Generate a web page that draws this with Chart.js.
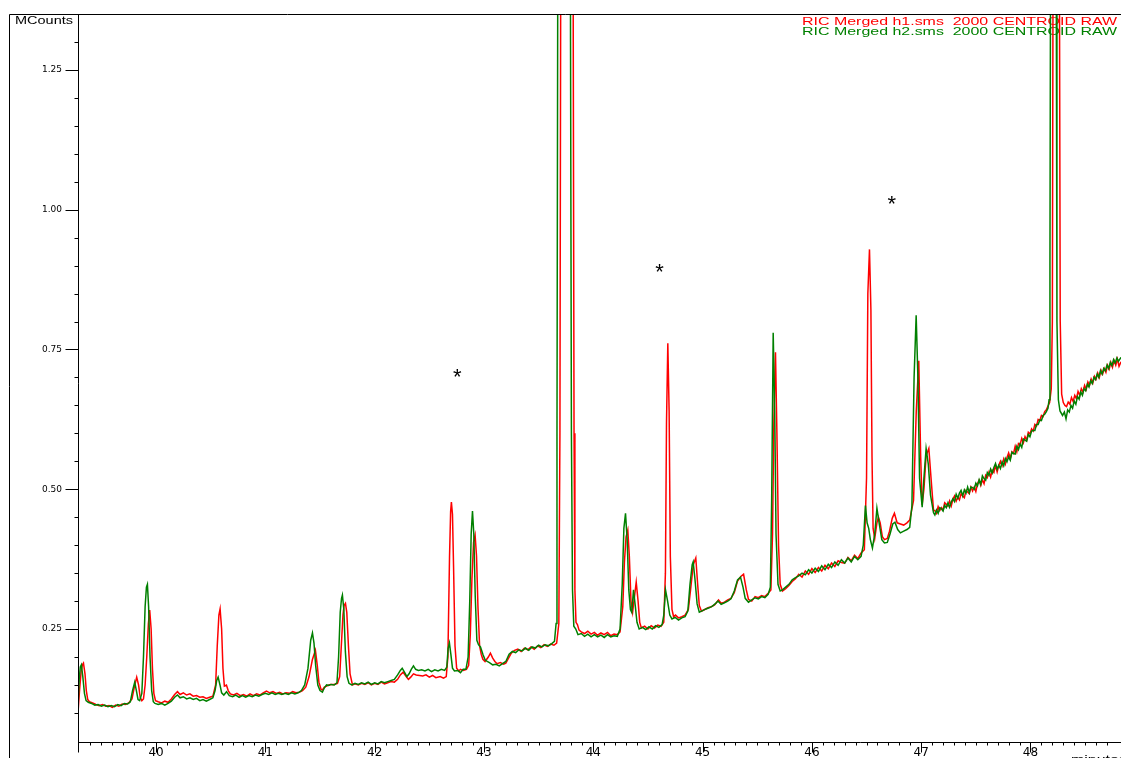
<!DOCTYPE html>
<html>
<head>
<meta charset="UTF-8">
<title>RIC Merged h1 / h2</title>
<script src="https://cdn.jsdelivr.net/npm/chart.js"></script>
<style>
  html, body { margin: 0; padding: 0; background: #fff; overflow: hidden; }
  canvas { display: block; }
</style>
</head>
<body>
<canvas id="ric" width="1121" height="758"></canvas>
<script>
// legend text of the two traces
const traceNames = ['RIC Merged h1.sms  2000 CENTROID RAW', 'RIC Merged h2.sms  2000 CENTROID RAW'];

// [minutes, MCounts]
const redTrace = [
  [39.286,0.100],[39.30,0.140],[39.315,0.175],[39.326,0.186],[39.336,0.189],[39.35,0.170],[39.362,0.140],[39.375,0.124],
  [39.39,0.120],[39.42,0.118],[39.45,0.115],[39.48,0.113],[39.51,0.115],[39.54,0.112],[39.57,0.113],[39.60,0.110],
  [39.63,0.114],[39.66,0.112],[39.69,0.116],[39.72,0.115],[39.75,0.118],[39.78,0.125],[39.80,0.145],[39.823,0.164],
  [39.84,0.150],[39.855,0.128],[39.87,0.122],[39.885,0.125],[39.90,0.150],[39.915,0.200],[39.93,0.260],[39.942,0.284],
  [39.955,0.250],[39.967,0.180],[39.98,0.135],[39.995,0.122],[40.02,0.120],[40.05,0.118],[40.08,0.121],[40.11,0.119],
  [40.14,0.125],[40.17,0.133],[40.196,0.138],[40.22,0.133],[40.25,0.136],[40.28,0.132],[40.31,0.134],[40.34,0.130],
  [40.37,0.131],[40.40,0.128],[40.43,0.129],[40.46,0.126],[40.49,0.128],[40.52,0.130],[40.545,0.150],[40.56,0.220],
  [40.575,0.275],[40.586,0.286],[40.60,0.250],[40.612,0.180],[40.625,0.148],[40.644,0.150],[40.66,0.140],[40.68,0.134],
  [40.71,0.132],[40.74,0.135],[40.77,0.131],[40.80,0.133],[40.83,0.130],[40.86,0.134],[40.89,0.131],[40.92,0.134],
  [40.95,0.132],[40.98,0.136],[41.01,0.139],[41.04,0.136],[41.07,0.138],[41.10,0.135],[41.13,0.137],[41.16,0.134],
  [41.19,0.136],[41.22,0.135],[41.25,0.138],[41.28,0.136],[41.31,0.137],[41.34,0.140],[41.37,0.146],[41.40,0.165],
  [41.43,0.195],[41.458,0.212],[41.475,0.185],[41.49,0.155],[41.51,0.142],[41.522,0.141],[41.54,0.146],[41.56,0.148],
  [41.58,0.150],[41.60,0.151],[41.63,0.151],[41.66,0.153],[41.68,0.165],[41.695,0.220],[41.71,0.275],[41.72,0.292],
  [41.733,0.296],[41.745,0.280],[41.76,0.220],[41.775,0.170],[41.797,0.150],[41.82,0.152],[41.85,0.150],[41.88,0.153],
  [41.91,0.151],[41.94,0.154],[41.97,0.150],[42.00,0.153],[42.03,0.151],[42.06,0.155],[42.09,0.152],[42.12,0.154],
  [42.15,0.156],[42.18,0.155],[42.21,0.160],[42.235,0.168],[42.26,0.173],[42.285,0.166],[42.309,0.160],[42.33,0.164],
  [42.355,0.170],[42.38,0.168],[42.41,0.167],[42.44,0.166],[42.47,0.168],[42.50,0.164],[42.53,0.167],[42.56,0.163],
  [42.60,0.165],[42.63,0.162],[42.655,0.165],[42.67,0.200],[42.685,0.380],[42.695,0.460],[42.702,0.477],[42.712,0.455],
  [42.722,0.360],[42.735,0.220],[42.75,0.180],[42.77,0.175],[42.785,0.178],[42.81,0.176],[42.84,0.178],[42.86,0.185],
  [42.875,0.240],[42.89,0.340],[42.905,0.405],[42.919,0.418],[42.932,0.380],[42.945,0.290],[42.96,0.220],[42.975,0.205],
  [42.99,0.196],[43.01,0.192],[43.04,0.200],[43.059,0.207],[43.08,0.198],[43.10,0.192],[43.12,0.188],[43.15,0.190],
  [43.18,0.187],[43.20,0.189],[43.22,0.196],[43.25,0.207],[43.28,0.212],[43.31,0.214],[43.34,0.210],[43.37,0.216],
  [43.40,0.213],[43.43,0.218],[43.46,0.214],[43.49,0.220],[43.52,0.217],[43.55,0.222],[43.58,0.219],[43.61,0.223],
  [43.64,0.221],[43.665,0.225],[43.685,0.260],[43.695,0.600],[43.702,1.400],[43.71,2.600],[43.77,3.000],[43.81,2.200],
  [43.817,1.300],[43.824,0.600],[43.832,0.320],[43.842,0.262],[43.855,0.258],[43.87,0.248],[43.89,0.245],[43.92,0.242],
  [43.95,0.246],[43.98,0.241],[44.01,0.244],[44.04,0.239],[44.07,0.243],[44.10,0.240],[44.13,0.244],[44.16,0.238],
  [44.19,0.241],[44.22,0.240],[44.245,0.245],[44.27,0.290],[44.285,0.370],[44.30,0.415],[44.316,0.427],[44.33,0.380],
  [44.345,0.300],[44.36,0.280],[44.375,0.305],[44.393,0.334],[44.41,0.300],[44.425,0.262],[44.44,0.252],[44.47,0.255],
  [44.50,0.250],[44.53,0.256],[44.56,0.252],[44.59,0.257],[44.62,0.255],[44.645,0.262],[44.66,0.350],[44.67,0.620],
  [44.682,0.761],[44.694,0.640],[44.705,0.380],[44.72,0.285],[44.735,0.272],[44.752,0.275],[44.78,0.270],[44.81,0.272],
  [44.84,0.275],[44.87,0.285],[44.89,0.320],[44.915,0.365],[44.938,0.377],[44.955,0.330],[44.97,0.292],[44.99,0.282],
  [45.02,0.285],[45.05,0.288],[45.08,0.290],[45.11,0.293],[45.146,0.302],[45.17,0.296],[45.20,0.298],[45.23,0.302],
  [45.26,0.305],[45.29,0.315],[45.32,0.336],[45.35,0.344],[45.375,0.348],[45.40,0.320],[45.42,0.303],[45.45,0.300],
  [45.48,0.308],[45.51,0.306],[45.54,0.310],[45.57,0.308],[45.60,0.314],[45.625,0.320],[45.64,0.420],[45.652,0.620],
  [45.667,0.745],[45.68,0.600],[45.695,0.400],[45.71,0.330],[45.731,0.318],[45.76,0.322],[45.79,0.328],[45.82,0.335],
  [45.85,0.340],[45.88,0.348],[45.91,0.343],[45.94,0.354],[45.97,0.348],[46.00,0.358],[46.03,0.351],[46.06,0.360],
  [46.09,0.354],[46.12,0.364],[46.15,0.358],[46.18,0.368],[46.21,0.362],[46.24,0.372],[46.27,0.369],[46.30,0.368],
  [46.33,0.378],[46.36,0.372],[46.39,0.382],[46.42,0.376],[46.45,0.386],[46.48,0.392],[46.50,0.520],[46.512,0.850],
  [46.527,0.929],[46.54,0.820],[46.55,0.560],[46.56,0.430],[46.575,0.412],[46.595,0.440],[46.609,0.450],[46.625,0.440],
  [46.645,0.415],[46.664,0.410],[46.69,0.412],[46.71,0.425],[46.735,0.448],[46.755,0.457],[46.78,0.440],[46.81,0.438],
  [46.84,0.436],[46.87,0.440],[46.895,0.445],[46.93,0.480],[46.955,0.640],[46.978,0.730],[46.995,0.560],[47.009,0.472],
  [47.025,0.500],[47.045,0.560],[47.07,0.573],[47.09,0.520],[47.113,0.462],[47.125,0.462],[47.14,0.457],[47.155,0.469],
  [47.17,0.462],[47.185,0.467],[47.20,0.463],[47.215,0.476],[47.23,0.473],[47.245,0.470],[47.26,0.479],[47.275,0.470],
  [47.29,0.482],[47.305,0.488],[47.32,0.479],[47.335,0.486],[47.35,0.481],[47.365,0.492],[47.38,0.488],[47.395,0.485],
  [47.41,0.498],[47.425,0.495],[47.44,0.492],[47.455,0.504],[47.47,0.497],[47.485,0.504],[47.50,0.496],[47.515,0.510],
  [47.53,0.516],[47.545,0.507],[47.56,0.517],[47.575,0.510],[47.59,0.525],[47.605,0.521],[47.62,0.531],[47.635,0.522],
  [47.65,0.534],[47.665,0.530],[47.68,0.543],[47.695,0.531],[47.71,0.543],[47.725,0.550],[47.74,0.542],[47.755,0.554],
  [47.77,0.545],[47.785,0.557],[47.80,0.565],[47.815,0.555],[47.83,0.567],[47.845,0.564],[47.86,0.577],[47.875,0.567],
  [47.89,0.582],[47.905,0.580],[47.92,0.591],[47.935,0.583],[47.95,0.594],[47.965,0.588],[47.98,0.602],[47.995,0.599],
  [48.01,0.608],[48.025,0.604],[48.04,0.616],[48.055,0.613],[48.07,0.625],[48.085,0.623],[48.10,0.632],[48.115,0.630],
  [48.13,0.639],[48.145,0.642],[48.16,0.649],[48.175,0.655],[48.19,0.680],[48.20,0.800],[48.207,1.500],[48.215,2.600],
  [48.255,2.600],[48.265,1.400],[48.272,0.800],[48.285,0.670],[48.30,0.655],[48.315,0.650],[48.33,0.648],[48.345,0.656],
  [48.36,0.652],[48.375,0.664],[48.39,0.657],[48.405,0.668],[48.42,0.662],[48.435,0.675],[48.45,0.668],[48.465,0.680],
  [48.48,0.674],[48.495,0.686],[48.51,0.679],[48.525,0.692],[48.54,0.686],[48.555,0.697],[48.57,0.690],[48.585,0.702],
  [48.60,0.697],[48.615,0.708],[48.63,0.700],[48.645,0.713],[48.66,0.706],[48.675,0.716],[48.69,0.709],[48.705,0.722],
  [48.72,0.715],[48.735,0.727],[48.75,0.718],[48.765,0.730],[48.78,0.722],[48.795,0.733],[48.81,0.720],[48.828,0.728]
];

const greenTrace = [
  [39.286,0.110],[39.297,0.160],[39.307,0.182],[39.317,0.186],[39.33,0.165],[39.345,0.135],[39.36,0.122],[39.38,0.119],
  [39.41,0.117],[39.44,0.114],[39.47,0.115],[39.50,0.112],[39.53,0.114],[39.56,0.111],[39.59,0.113],[39.62,0.111],
  [39.65,0.115],[39.68,0.113],[39.71,0.117],[39.74,0.116],[39.765,0.120],[39.785,0.140],[39.805,0.155],[39.82,0.140],
  [39.835,0.124],[39.85,0.122],[39.87,0.135],[39.885,0.200],[39.90,0.290],[39.912,0.325],[39.921,0.330],[39.932,0.290],
  [39.945,0.200],[39.96,0.140],[39.975,0.120],[39.99,0.117],[40.02,0.115],[40.05,0.117],[40.08,0.114],[40.11,0.117],
  [40.14,0.121],[40.17,0.128],[40.196,0.132],[40.22,0.127],[40.25,0.129],[40.28,0.125],[40.31,0.127],[40.34,0.124],
  [40.37,0.126],[40.40,0.122],[40.43,0.124],[40.46,0.121],[40.49,0.124],[40.52,0.127],[40.54,0.140],[40.555,0.158],
  [40.568,0.164],[40.585,0.150],[40.60,0.136],[40.62,0.132],[40.645,0.138],[40.67,0.131],[40.70,0.129],[40.73,0.132],
  [40.76,0.128],[40.79,0.131],[40.82,0.128],[40.85,0.131],[40.88,0.129],[40.91,0.132],[40.94,0.130],[40.97,0.133],
  [41.00,0.135],[41.03,0.133],[41.06,0.136],[41.09,0.133],[41.12,0.135],[41.15,0.133],[41.18,0.135],[41.21,0.133],
  [41.24,0.136],[41.27,0.134],[41.30,0.136],[41.33,0.140],[41.36,0.150],[41.39,0.180],[41.415,0.230],[41.431,0.243],
  [41.445,0.225],[41.46,0.185],[41.48,0.150],[41.50,0.140],[41.522,0.137],[41.54,0.145],[41.56,0.150],[41.58,0.149],
  [41.60,0.151],[41.63,0.150],[41.655,0.154],[41.67,0.200],[41.685,0.280],[41.697,0.305],[41.705,0.311],[41.718,0.285],
  [41.732,0.210],[41.748,0.165],[41.765,0.153],[41.79,0.150],[41.82,0.153],[41.85,0.151],[41.88,0.154],[41.91,0.152],
  [41.94,0.155],[41.97,0.151],[42.00,0.154],[42.03,0.152],[42.06,0.156],[42.09,0.154],[42.12,0.156],[42.15,0.158],
  [42.18,0.160],[42.21,0.168],[42.235,0.176],[42.252,0.180],[42.275,0.172],[42.295,0.165],[42.315,0.170],[42.335,0.178],
  [42.355,0.184],[42.375,0.178],[42.40,0.176],[42.43,0.177],[42.46,0.175],[42.49,0.178],[42.52,0.174],[42.55,0.177],
  [42.58,0.175],[42.61,0.178],[42.64,0.176],[42.66,0.182],[42.672,0.215],[42.684,0.225],[42.697,0.205],[42.712,0.180],
  [42.73,0.175],[42.76,0.176],[42.785,0.172],[42.81,0.178],[42.835,0.178],[42.855,0.200],[42.87,0.300],[42.883,0.420],
  [42.895,0.461],[42.907,0.420],[42.92,0.310],[42.935,0.230],[42.95,0.222],[42.968,0.218],[42.99,0.205],[43.01,0.195],
  [43.03,0.192],[43.05,0.190],[43.08,0.186],[43.11,0.187],[43.14,0.184],[43.17,0.188],[43.20,0.192],[43.23,0.205],
  [43.26,0.210],[43.29,0.208],[43.32,0.213],[43.35,0.211],[43.38,0.216],[43.41,0.212],[43.44,0.218],[43.47,0.216],
  [43.50,0.221],[43.53,0.218],[43.56,0.222],[43.59,0.220],[43.62,0.224],[43.645,0.228],[43.66,0.260],[43.668,0.600],
  [43.675,1.400],[43.683,2.600],[43.74,3.000],[43.785,2.200],[43.792,1.300],[43.80,0.600],[43.81,0.320],[43.822,0.255],
  [43.84,0.250],[43.86,0.240],[43.89,0.242],[43.92,0.237],[43.95,0.241],[43.98,0.236],[44.01,0.240],[44.04,0.236],
  [44.07,0.239],[44.10,0.235],[44.13,0.240],[44.16,0.236],[44.19,0.238],[44.22,0.237],[44.245,0.250],[44.265,0.330],
  [44.28,0.430],[44.295,0.457],[44.31,0.410],[44.325,0.320],[44.34,0.285],[44.352,0.280],[44.368,0.320],[44.385,0.290],
  [44.40,0.262],[44.42,0.250],[44.45,0.253],[44.48,0.249],[44.51,0.254],[44.54,0.250],[44.57,0.256],[44.60,0.253],
  [44.63,0.258],[44.645,0.275],[44.661,0.320],[44.68,0.300],[44.70,0.275],[44.72,0.268],[44.75,0.271],[44.78,0.266],
  [44.81,0.270],[44.84,0.272],[44.865,0.282],[44.885,0.330],[44.905,0.365],[44.914,0.370],[44.93,0.340],[44.95,0.295],
  [44.97,0.280],[45.00,0.283],[45.03,0.286],[45.06,0.288],[45.09,0.291],[45.12,0.296],[45.14,0.300],[45.17,0.294],
  [45.20,0.297],[45.23,0.300],[45.26,0.304],[45.29,0.318],[45.32,0.338],[45.347,0.343],[45.37,0.325],[45.39,0.305],
  [45.42,0.298],[45.45,0.302],[45.48,0.306],[45.51,0.304],[45.54,0.308],[45.57,0.306],[45.60,0.312],[45.62,0.325],
  [45.632,0.480],[45.646,0.780],[45.66,0.640],[45.672,0.420],[45.69,0.330],[45.71,0.318],[45.731,0.320],[45.76,0.325],
  [45.79,0.330],[45.82,0.338],[45.85,0.342],[45.88,0.345],[45.91,0.350],[45.94,0.347],[45.97,0.356],[46.00,0.350],
  [46.03,0.359],[46.06,0.353],[46.09,0.363],[46.12,0.356],[46.15,0.366],[46.18,0.360],[46.21,0.370],[46.24,0.364],
  [46.27,0.374],[46.30,0.368],[46.33,0.377],[46.36,0.370],[46.39,0.380],[46.42,0.374],[46.45,0.380],[46.47,0.400],
  [46.49,0.471],[46.505,0.440],[46.52,0.430],[46.535,0.410],[46.554,0.395],[46.575,0.420],[46.595,0.466],[46.615,0.440],
  [46.64,0.410],[46.664,0.404],[46.69,0.405],[46.715,0.420],[46.74,0.438],[46.76,0.441],[46.785,0.428],[46.81,0.422],
  [46.84,0.425],[46.87,0.428],[46.895,0.432],[46.915,0.470],[46.935,0.700],[46.954,0.811],[46.97,0.700],[46.985,0.520],
  [47.009,0.468],[47.025,0.520],[47.045,0.573],[47.065,0.545],[47.085,0.490],[47.113,0.458],[47.125,0.454],[47.14,0.463],
  [47.155,0.457],[47.17,0.467],[47.185,0.465],[47.20,0.461],[47.215,0.471],[47.23,0.467],[47.245,0.476],[47.26,0.468],
  [47.275,0.477],[47.29,0.483],[47.305,0.478],[47.32,0.491],[47.335,0.484],[47.35,0.493],[47.365,0.498],[47.38,0.488],
  [47.395,0.499],[47.41,0.493],[47.425,0.504],[47.44,0.494],[47.455,0.504],[47.47,0.503],[47.485,0.500],[47.50,0.511],
  [47.515,0.506],[47.53,0.517],[47.545,0.509],[47.56,0.524],[47.575,0.519],[47.59,0.516],[47.605,0.530],[47.62,0.525],
  [47.635,0.536],[47.65,0.529],[47.665,0.539],[47.68,0.546],[47.695,0.536],[47.71,0.543],[47.725,0.537],[47.74,0.549],
  [47.755,0.542],[47.77,0.555],[47.785,0.549],[47.80,0.558],[47.815,0.552],[47.83,0.566],[47.845,0.564],[47.86,0.563],
  [47.875,0.577],[47.89,0.571],[47.905,0.581],[47.92,0.575],[47.935,0.590],[47.95,0.588],[47.965,0.586],[47.98,0.598],
  [47.995,0.594],[48.01,0.604],[48.025,0.605],[48.04,0.605],[48.055,0.616],[48.07,0.616],[48.085,0.624],[48.10,0.623],
  [48.115,0.632],[48.13,0.634],[48.145,0.639],[48.16,0.645],[48.17,0.660],[48.178,0.900],[48.184,1.500],[48.19,2.600],
  [48.23,2.600],[48.236,1.400],[48.242,0.800],[48.255,0.660],[48.27,0.640],[48.293,0.632],[48.31,0.638],[48.325,0.626],
  [48.34,0.642],[48.355,0.638],[48.37,0.650],[48.385,0.645],[48.40,0.658],[48.415,0.652],[48.43,0.666],[48.445,0.661],
  [48.46,0.674],[48.475,0.668],[48.49,0.680],[48.505,0.676],[48.52,0.688],[48.535,0.683],[48.55,0.694],[48.565,0.689],
  [48.58,0.700],[48.595,0.696],[48.61,0.706],[48.625,0.700],[48.64,0.712],[48.655,0.706],[48.67,0.716],[48.685,0.712],
  [48.70,0.722],[48.715,0.716],[48.73,0.727],[48.745,0.721],[48.76,0.732],[48.775,0.726],[48.79,0.735],[48.805,0.729],
  [48.828,0.736]
];

// labelled ticks
const xLabels = [40, 41, 42, 43, 44, 45, 46, 47, 48];
const yLabels = [0.25, 0.50, 0.75, 1.00, 1.25];

// asterisks placed above peaks
const starTimes = [42.757, 44.607, 46.730];
const starCounts = [0.709, 0.898, 1.020];

const near = (a, b) => Math.abs(a - b) < 1e-6;
const onStep = (v, step) => near(v / step, Math.round(v / step));

// stretched text like the original software output
function wideText(ctx, text, x, y, size, color, align) {
  ctx.save();
  ctx.font = size + 'px "Liberation Sans", Arial, sans-serif';
  ctx.fillStyle = color;
  ctx.textBaseline = 'alphabetic';
  const w = ctx.measureText(text).width * 1.45;
  const left = align === 'right' ? x - w : x;
  ctx.translate(left, y);
  ctx.scale(1.45, 1);
  ctx.textAlign = 'left';
  ctx.fillText(text, 0, 0);
  ctx.restore();
}

const decor = {
  id: 'decor',
  beforeDatasetsDraw(chart) {
    const ctx = chart.ctx;
    wideText(ctx, traceNames[0], 1117, 25, 11, '#ff0000', 'right');
    wideText(ctx, traceNames[1], 1117, 35, 11, '#008000', 'right');
  },
  afterDatasetsDraw(chart) {
    const {ctx, scales: {x, y}} = chart;
    ctx.save();
    ctx.font = '22px "Liberation Sans", Arial, sans-serif';
    ctx.fillStyle = '#000';
    ctx.textAlign = 'center';
    ctx.textBaseline = 'alphabetic';
    starTimes.forEach((t, i) => {
      ctx.fillText('*', x.getPixelForValue(t), y.getPixelForValue(starCounts[i]) + 12);
    });
    ctx.restore();
  },
  afterDraw(chart) {
    const {ctx, chartArea: a, scales: {x, y}} = chart;
    ctx.save();
    ctx.strokeStyle = '#000';
    ctx.lineWidth = 1;
    ctx.beginPath();
    // outer frame
    ctx.moveTo(9.5, 758);
    ctx.lineTo(9.5, a.top + 0.5);
    ctx.lineTo(a.right, a.top + 0.5);
    // axes
    const ax = Math.round(a.left) + 0.5;
    const ay = Math.round(a.bottom) + 0.5;
    ctx.moveTo(ax, a.top);
    ctx.lineTo(ax, ay + 10);
    ctx.moveTo(ax, ay);
    ctx.lineTo(a.right, ay);
    y.ticks.forEach(t => {
      if (!onStep(t.value, 0.05)) return;
      const major = yLabels.some(v => near(v, t.value));
      const py = Math.round(y.getPixelForValue(t.value)) + 0.5;
      ctx.moveTo(ax - (major ? 13 : 4), py);
      ctx.lineTo(ax, py);
    });
    x.ticks.forEach(t => {
      if (!onStep(t.value, 0.1)) return;
      const major = xLabels.some(v => near(v, t.value));
      const px = Math.round(x.getPixelForValue(t.value)) + 0.5;
      ctx.moveTo(px, ay);
      ctx.lineTo(px, ay + (major ? 10 : 3));
    });
    ctx.stroke();
    ctx.restore();
    wideText(ctx, 'MCounts', 15, 24, 10, '#000', 'left');
    wideText(ctx, 'minutes', 1071, 763, 11, '#000', 'left');
  }
};

const toPoints = trace => trace.map(p => ({x: p[0], y: p[1]}));

new Chart(document.getElementById('ric'), {
  type: 'line',
  data: {
    datasets: [
      {
        label: traceNames[1],
        data: toPoints(greenTrace),
        borderColor: '#008000',
        borderWidth: 1.5,
        pointRadius: 0,
        tension: 0,
        order: 0
      },
      {
        label: traceNames[0],
        data: toPoints(redTrace),
        borderColor: '#ff0000',
        borderWidth: 1.5,
        pointRadius: 0,
        tension: 0,
        order: 1
      }
    ]
  },
  options: {
    responsive: false,
    animation: false,
    parsing: false,
    layout: { padding: { top: 14, right: 0, left: 0, bottom: 0 } },
    plugins: { legend: { display: false }, tooltip: { enabled: false } },
    scales: {
      x: {
        type: 'linear',
        min: 39.286,
        max: 48.828,
        grid: { display: false, drawTicks: false },
        border: { display: false },
        afterFit: s => { s.height = 16; s.paddingLeft = 0; s.paddingRight = 0; },
        ticks: {
          stepSize: 0.1,
          maxTicksLimit: 200,
          autoSkip: false,
          maxRotation: 0,
          padding: 4,
          color: '#000',
          font: { family: '"DejaVu Sans", sans-serif', size: 12 },
          callback: v => xLabels.some(l => near(l, v)) ? String(Math.round(v)) : ''
        }
      },
      y: {
        min: 0.048,
        max: 1.35,
        grid: { display: false, drawTicks: false },
        border: { display: false },
        afterFit: s => { s.width = 78; s.paddingTop = 0; s.paddingBottom = 0; },
        ticks: {
          stepSize: 0.05,
          maxTicksLimit: 100,
          autoSkip: false,
          padding: 16,
          color: '#000',
          font: { family: '"DejaVu Sans", sans-serif', size: 9 },
          callback: v => yLabels.some(l => near(l, v)) ? v.toFixed(2) : ''
        }
      }
    }
  },
  plugins: [decor]
});
</script>
</body>
</html>
